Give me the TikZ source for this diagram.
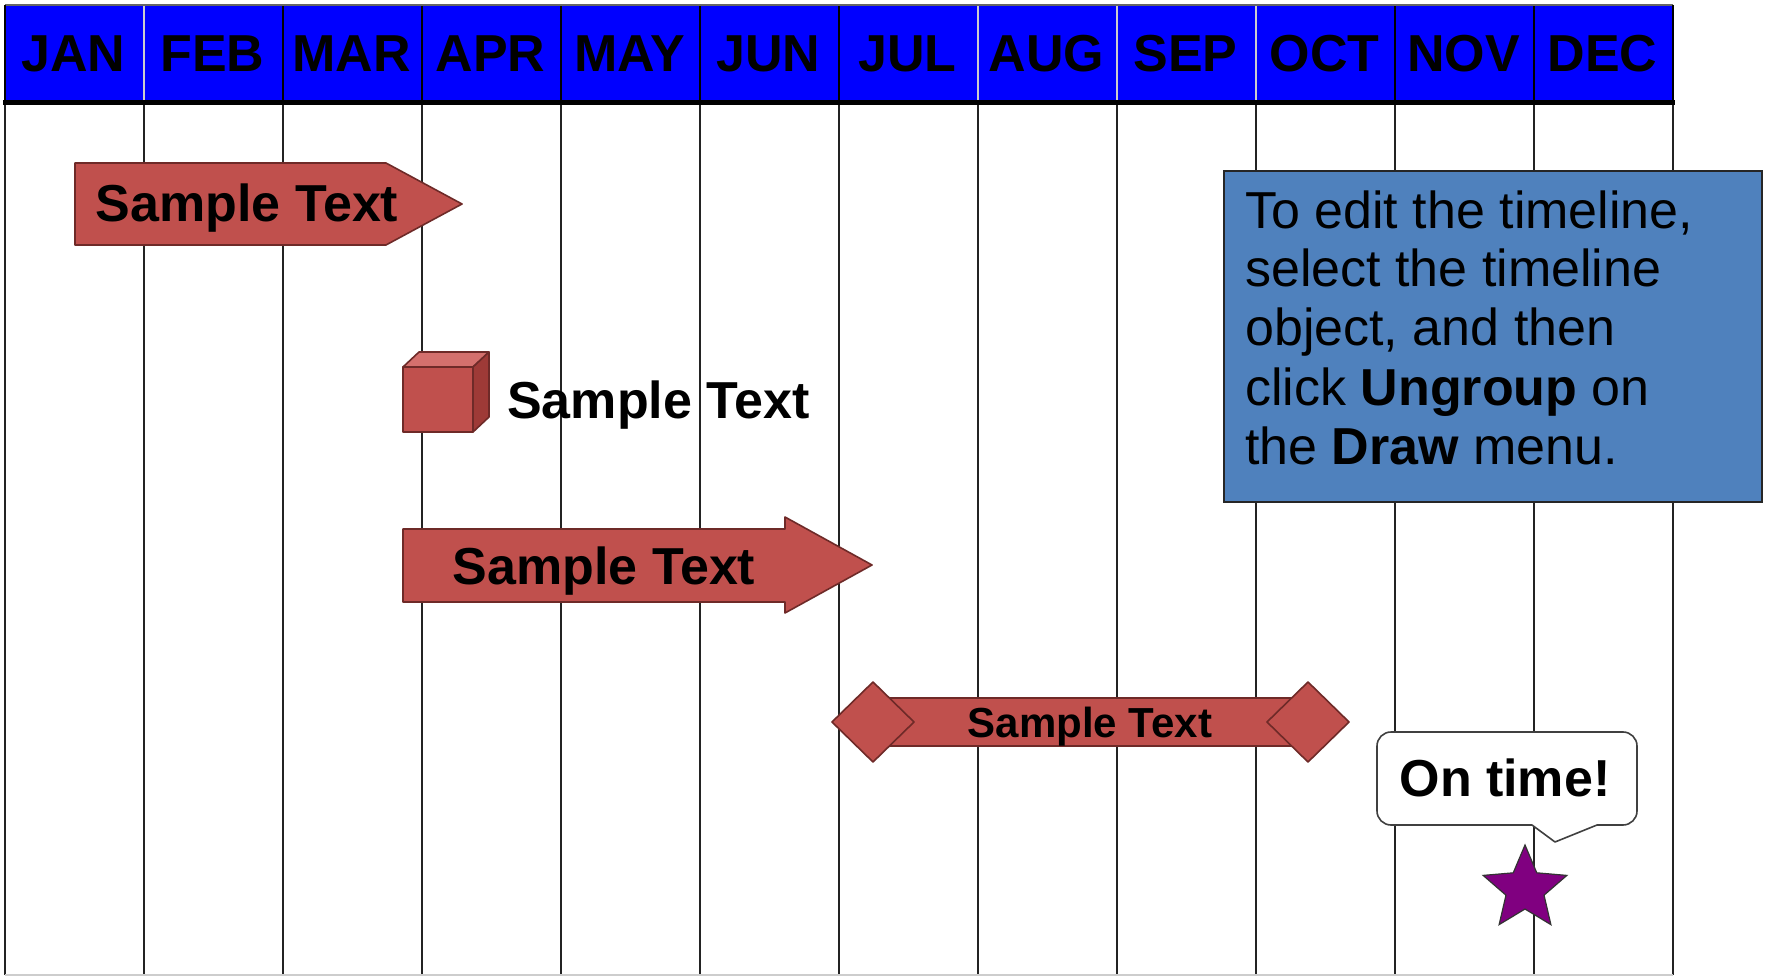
\documentclass[tikz,border=0pt]{standalone}
\usepackage{fontspec}
\setmainfont{Liberation Sans}
\usetikzlibrary{shapes.geometric}
\definecolor{hdrblue}{RGB}{0,0,255}
\definecolor{redfill}{RGB}{192,80,77}
\definecolor{redline}{RGB}{110,42,40}
\definecolor{redtop}{RGB}{212,112,109}
\definecolor{redside}{RGB}{158,58,55}
\definecolor{boxblue}{RGB}{79,129,189}
\definecolor{starpurple}{RGB}{128,0,128}
\definecolor{gridc}{RGB}{35,35,35}
\definecolor{sepl}{RGB}{205,205,205}
\begin{document}
\begin{tikzpicture}[x=1pt,y=-1pt,
  gridline/.style={draw=gridc,line width=2.4pt},
  shapefill/.style={fill=redfill,draw=redline,line width=1.6pt,line join=round},
  hdrtext/.style={font=\fontsize{52}{60}\selectfont\bfseries,anchor=base,inner sep=0pt},
  bigtext/.style={font=\fontsize{52}{60}\selectfont\bfseries,anchor=base,inner sep=0pt},
  smalltext/.style={font=\fontsize{42}{50}\selectfont\bfseries,anchor=base,inner sep=0pt},
  notetext/.style={font=\fontsize{52}{59}\selectfont,anchor=base west,inner sep=0pt},
]
\useasboundingbox (0,0) rectangle (1765,976);
\fill[white] (0,0) rectangle (1765,976);
% grid lines
\foreach \i in {0,...,12} \draw[gridline] (5+139*\i,103) -- (5+139*\i,975);
\draw[sepl,line width=1.5pt] (5,975) -- (1673,975);
% header
\fill[hdrblue] (5,5) rectangle (1673,101);
\foreach \i/\c in {1/sepl,2/black,3/black,4/black,5/black,6/black,7/sepl,8/sepl,9/sepl,10/black,11/black}
  \draw[\c,line width=2.4pt] (5+139*\i,5) -- (5+139*\i,101);
\draw[black!60,line width=1.5pt] (5,5) -- (1673,5);
\draw[black,line width=2.4pt] (5,5) -- (5,101);
\draw[black,line width=2.4pt] (1673,5) -- (1673,101);
\draw[black,line width=4.5pt] (3,102.5) -- (1675,102.5);
\foreach \m [count=\i from 0] in {JAN,FEB,MAR,APR,MAY,JUN,JUL,AUG,SEP,OCT,NOV,DEC}
  \node[hdrtext] (m\i) at (73.5+139*\i,72) {\m};
% pentagon arrow
\draw[shapefill] (75,163) -- (386,163) -- (462,204) -- (386,245) -- (75,245) -- cycle;
\node[bigtext] (t1) at (247,222) {Sample Text};
% cube
\draw[shapefill] (403,367) rectangle (473,432);
\draw[shapefill,fill=redtop] (403,367) -- (419,352) -- (489,352) -- (473,367) -- cycle;
\draw[shapefill,fill=redside] (473,367) -- (489,352) -- (489,417) -- (473,432) -- cycle;
\node[bigtext,anchor=base west] (t2) at (507,418) {Sample Text};
% block arrow
\draw[shapefill] (403,529) -- (785,529) -- (785,517) -- (872,565) -- (785,613) -- (785,602) -- (403,602) -- cycle;
\node[bigtext] (t3) at (604,584) {Sample Text};
% diamond bar
\draw[shapefill] (873,698) rectangle (1308,746);
\draw[shapefill] (832,722) -- (873,682) -- (914,722) -- (873,762) -- cycle;
\draw[shapefill] (1267,722) -- (1308,682) -- (1349,722) -- (1308,762) -- cycle;
\node[smalltext] (t4) at (1090,737) {Sample Text};
% note box
\draw[fill=boxblue,draw=black!85,line width=1.6pt] (1224,171) rectangle (1762,502);
\node[notetext] (n1) at (1245,229) {To edit the timeline,};
\node[notetext] (n2) at (1245,287) {select the timeline};
\node[notetext] (n3) at (1245,346) {object, and then};
\node[notetext] (n4) at (1245,405) {click \textbf{Ungroup} on};
\node[notetext] (n5) at (1245,464) {the \textbf{Draw} menu.};
% callout
\draw[fill=white,draw=black!75,line width=1.6pt,line join=round]
  (1377,778) [rounded corners=14] -- (1377,732) -- (1637,732) -- (1637,825) [sharp corners] -- (1597,825) -- (1555,842) -- (1532,825) [rounded corners=14] -- (1377,825) -- cycle;
\node[bigtext] (c1) at (1505,796) {On time!};
% star
\node[star,star points=5,star point ratio=2.2,minimum size=88pt,inner sep=0pt,fill=starpurple,draw=black!80,line width=1.2pt] (s1) at (1525,889) {};
\end{tikzpicture}
\end{document}
